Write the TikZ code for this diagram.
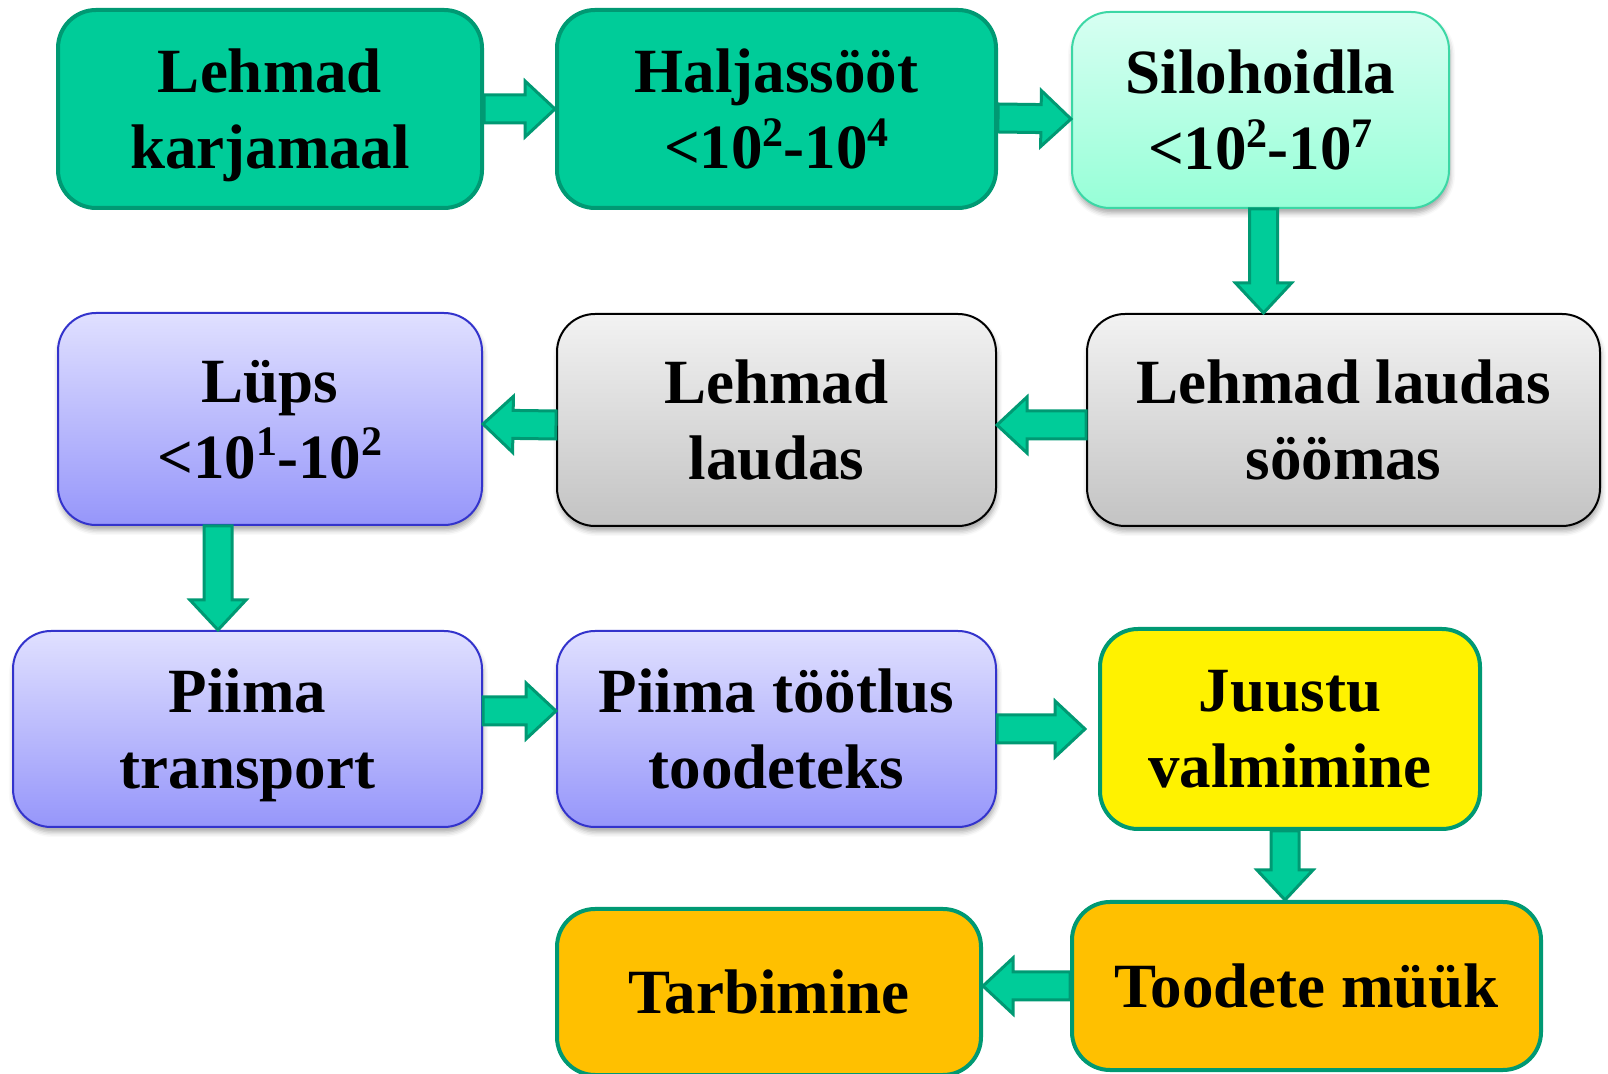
\documentclass[tikz,border=0pt]{standalone}
\usepackage{fontspec}
\setmainfont{Liberation Serif}
\usetikzlibrary{calc}
\usetikzlibrary{shadows.blur}
\definecolor{arrfill}{RGB}{0,204,153}
\definecolor{arrline}{RGB}{0,153,115}
\definecolor{mintline}{RGB}{60,215,165}
\definecolor{purpline}{RGB}{51,51,204}
\newcommand{\supnum}[1]{\raisebox{0.36em}{\fontsize{42}{42}\selectfont #1}}
\tikzset{%
    box/.style={inner sep=0pt, rounded corners=38pt, align=center, text depth=0pt,
        font=\fontsize{63}{76}\selectfont\bfseries},
    shad/.style={blur shadow={shadow xshift=1pt, shadow yshift=-5pt,
        shadow blur radius=5pt, shadow opacity=35}},
    grnbox/.style={box, fill=arrfill, draw=arrline, line width=4pt},
    mintbox/.style={box, shad, top color={rgb,255:red,215;green,255;blue,242},
        bottom color={rgb,255:red,150;green,255;blue,215}, draw=mintline, line width=2pt},
    graybox/.style={box, shad, top color={rgb,255:red,242;green,242;blue,242},
        bottom color={rgb,255:red,195;green,195;blue,195}, draw=black, line width=2pt},
    purpbox/.style={box, shad, top color={rgb,255:red,224;green,224;blue,255},
        bottom color={rgb,255:red,150;green,150;blue,250}, draw=purpline, line width=2pt},
    yelbox/.style={box, fill=yellow, draw=arrline, line width=4pt},
    orgbox/.style={box, fill={rgb,255:red,255;green,192;blue,0}, draw=arrline, line width=4pt},
    arr/.style={fill=arrfill, draw=arrline, line width=3pt,
        to path={let \p1=(\tikztostart), \p2=(\tikztotarget),
            \n1={veclen(\x2-\x1,\y2-\y1)}, \n2={atan2(\y2-\y1,\x2-\x1)} in
            {[shift={(\p1)}, rotate=\n2]
            (0,-14) -- ({\n1-30},-14) -- ({\n1-30},-28) -- (\n1,0)
            -- ({\n1-30},28) -- ({\n1-30},14) -- (0,14) -- cycle}}}
}
\begin{document}
\begin{tikzpicture}[x=1pt, y=1pt]
        \useasboundingbox (0,0) rectangle (1608,1073);

        \node[grnbox, minimum width=424, minimum height=198] (1a) at (270,964) {Lehmad\\karjamaal};
        \node[grnbox, minimum width=439, minimum height=198] (1b) at (776.5,964) {Haljassööt\\<10\supnum{2}-10\supnum{4}};
        \node[mintbox, minimum width=377, minimum height=196] (1c) at (1260.5,963) {Silohoidla\\<10\supnum{2}-10\supnum{7}};

        \node[purpbox, minimum width=424, minimum height=212] (2a) at (270,654) {Lüps\\<10\supnum{1}-10\supnum{2}};
        \node[graybox, minimum width=439, minimum height=212] (2b) at (776.5,653) {Lehmad\\laudas};
        \node[graybox, minimum width=513, minimum height=212] (2c) at (1343.5,653) {Lehmad laudas\\söömas};

        \node[purpbox, minimum width=469, minimum height=196] (3a) at (247.5,344) {Piima\\transport};
        \node[purpbox, minimum width=439, minimum height=196] (3b) at (776.5,344) {Piima töötlus\\toodeteks};
        \node[yelbox, minimum width=380, minimum height=200] (3c) at (1290,344) {Juustu\\valmimine};

        \node[orgbox, minimum width=424, minimum height=166] (4a) at (769,81) {Tarbimine};
        \node[orgbox, minimum width=469, minimum height=168] (4b) at (1306.5,87) {Toodete müük};

        \draw[arr] (1a.east) to (1b.west);
        \draw[arr] ([yshift=-9]1b.east) to ([yshift=-9]1c.west);
        \draw[arr] ([xshift=3]1c.south) to ([xshift=3]1c.south |- 2c.north);

        \draw[arr] ([yshift=-5]2c.west) to ([yshift=-5]2b.east);
        \draw[arr] ([yshift=-5]2b.west) to ([yshift=-5]2a.east);
        \draw[arr] ([xshift=-52]2a.south) to ([xshift=-52]2a.south |- 3a.north);

        \draw[arr] ([yshift=18]3a.east) to ([yshift=18]3b.west);
        \draw[arr] (3b.east) to ([xshift=-13]3c.west);
        \draw[arr] ([xshift=-5]3c.south) to ([xshift=-5]3c.south |- 4b.north);

        \draw[arr] (4b.west) to (4b.west -| 4a.east);
    \end{tikzpicture}
\end{document}
